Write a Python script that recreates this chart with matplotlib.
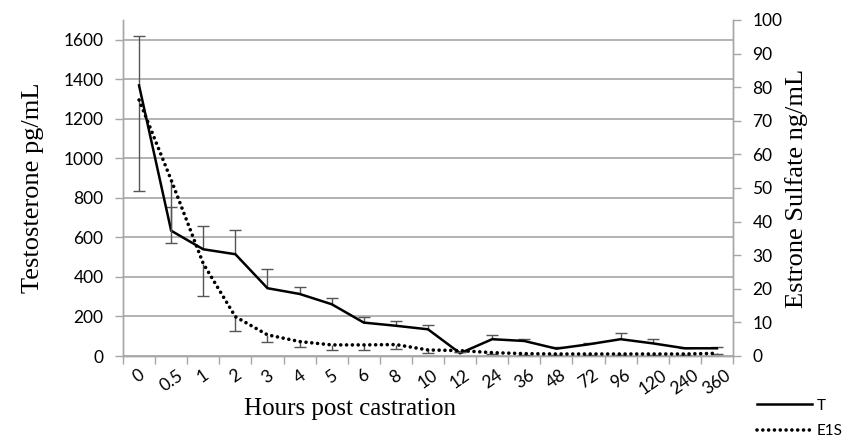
import numpy as np
import matplotlib
matplotlib.use("Agg")
import matplotlib.pyplot as plt

# hours post castration (categorical axis)
hours = ["0", "0.5", "1", "2", "3", "4", "5", "6", "8", "10",
         "12", "24", "36", "48", "72", "96", "120", "240", "360"]

# testosterone, pg/mL (left axis), plus-only error bars
t_vals = [1369, 634, 540, 515, 343, 314, 262, 169, 153, 135,
          14, 85, 76, 37, 59, 85, 64, 39, 39]
t_err = [248, 120, 118, 123, 96, 34, 29, 30, 26, 20,
         8, 21, 9, 10, 6, 33, 22, 3, 5]

# estrone sulfate, ng/mL (right axis), minus-only error bars
e_vals = [76.2, 52.4, 27.5, 11.7, 6.3, 4.3, 3.3, 3.3, 3.4, 1.8,
          1.6, 1.0, 0.7, 0.6, 0.6, 0.6, 0.6, 0.6, 0.8]
e_err = [27.0, 18.7, 9.5, 4.2, 2.1, 1.5, 1.5, 1.5, 1.4, 0.8,
         0.5, 0.4, 0.3, 0.2, 0.2, 0.2, 0.2, 0.2, 0.2]

GRAY = "#a6a6a6"
ERR = "#555555"
TICK_FONT = ["Lato", "DejaVu Sans"]
LABEL_FONT = ["Liberation Serif", "DejaVu Serif"]

fig = plt.figure(figsize=(8.47, 4.40), dpi=100)
ax = fig.add_axes([123 / 847, 1 - 356 / 440, 610 / 847, 336 / 440])
ax2 = ax.twinx()

x = np.arange(len(hours))

# left axis: testosterone
ax.set_xlim(-0.5, len(hours) - 0.5)
ax.set_ylim(0, 1700)
ax.set_yticks(np.arange(0, 1601, 200))
ax.grid(axis="y", color=GRAY, linewidth=1.2)
ax.set_axisbelow(True)

t_line, = ax.plot(x, t_vals, color="black", linewidth=1.8, zorder=3,
                  label="T", solid_joinstyle="miter")
_, caps, _ = ax.errorbar(x, t_vals, yerr=[np.zeros(len(x)), t_err],
                         fmt="none", ecolor=ERR, elinewidth=1.0,
                         capsize=4, capthick=1.0, zorder=2)
caps[0].set_visible(False)

# right axis: estrone sulfate
ax2.set_ylim(0, 100)
ax2.set_yticks(np.arange(0, 101, 10))
e_line, = ax2.plot(x, e_vals, color="black", linewidth=2.6,
                   linestyle=(0, (0.01, 1.6)), dash_capstyle="round",
                   label="E1S", zorder=3)
_, caps2, _ = ax2.errorbar(x, e_vals, yerr=[e_err, np.zeros(len(x))],
                           fmt="none", ecolor=ERR, elinewidth=1.0,
                           capsize=4, capthick=1.0, zorder=2)
caps2[1].set_visible(False)

# x ticks at category boundaries, labels at centres
ax.set_xticks(np.arange(-0.5, len(hours), 1.0))
ax.set_xticklabels([])
ax.set_xticks(x, minor=True)
ax.set_xticklabels(hours, minor=True, rotation=35, ha="center", va="top",
                   family=TICK_FONT, fontsize=12.5)
ax.tick_params(axis="x", which="major", length=6, color=GRAY, width=1.0)
ax.tick_params(axis="x", which="minor", length=0, pad=8)

ax.tick_params(axis="y", length=6, color=GRAY, width=1.0, pad=8,
               labelsize=12.5)
ax2.tick_params(axis="y", length=6, color=GRAY, width=1.0, pad=8,
                labelsize=12.5)
for lab in ax.get_yticklabels() + ax2.get_yticklabels():
    lab.set_family(TICK_FONT)

for a in (ax, ax2):
    a.spines["top"].set_visible(False)
    for s in ("left", "right", "bottom"):
        a.spines[s].set_color(GRAY)
        a.spines[s].set_linewidth(1.0)

ax.set_ylabel("Testosterone pg/mL", family=LABEL_FONT, fontsize=19, labelpad=14)
ax2.set_ylabel("Estrone Sulfate ng/mL", family=LABEL_FONT, fontsize=19,
               labelpad=2)
ax.set_xlabel("Hours post castration", family=LABEL_FONT, fontsize=18)
ax.xaxis.set_label_coords(227 / 610, -0.125)

fig.legend(handles=[t_line, e_line], loc="lower left",
           bbox_to_anchor=(757 / 847, 2 / 440), frameon=False,
           prop={"family": TICK_FONT, "size": 11}, handlelength=3.6,
           handletextpad=0.3, labelspacing=0.75, borderpad=0,
           borderaxespad=0)

fig.savefig("out.png", dpi=100, facecolor="white")
